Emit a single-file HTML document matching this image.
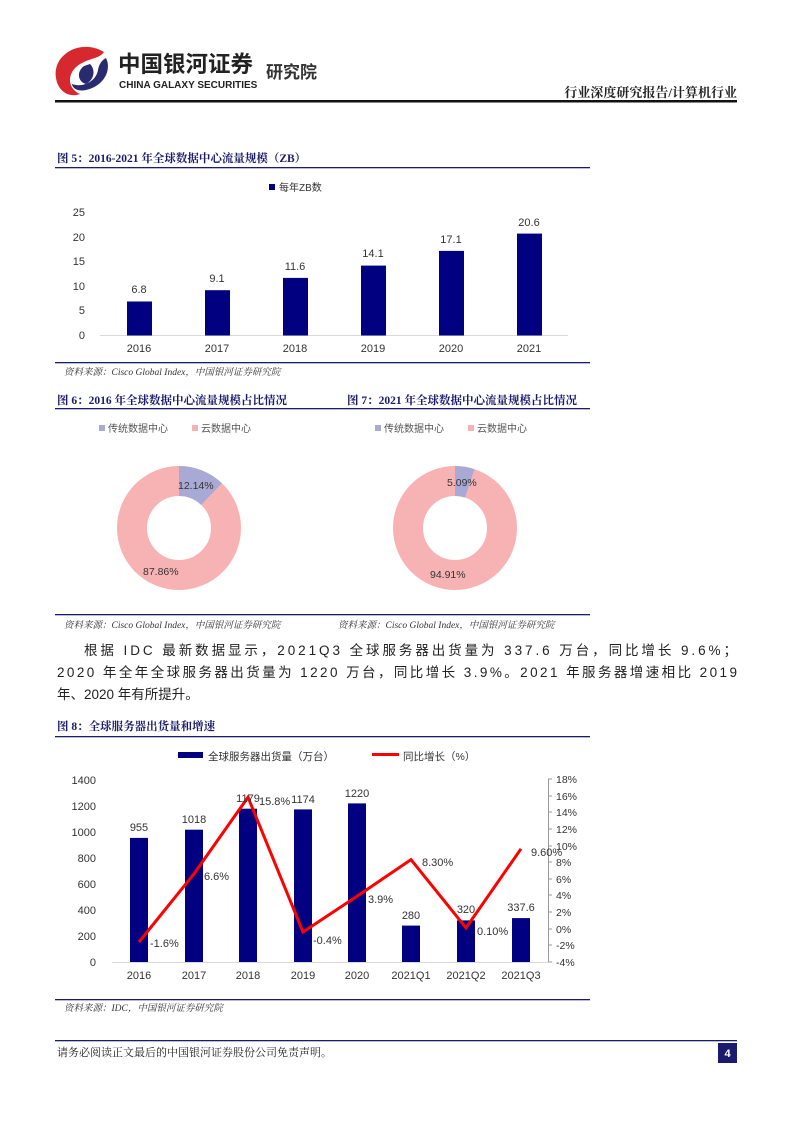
<!DOCTYPE html>
<html><head><meta charset="utf-8"><style>
body{margin:0;background:#fff}
svg{display:block}
text{font-family:"Liberation Sans","Noto Sans CJK SC",sans-serif}
.s{font-family:"Liberation Serif","Noto Serif CJK SC",serif}
</style></head><body>
<svg width="793" height="1122" viewBox="0 0 793 1122" xmlns="http://www.w3.org/2000/svg">
<!-- header -->
<path d="M104 52 C80 38 52 55 56 78 C58 92 70 98 80 94 C66 88 66 70 84 62 C92 58 100 58 104 52Z" fill="#d7282f"/>
<path d="M106 58 C112 70 104 86 86 90 C78 92 72 88 72 84 C82 88 96 82 98 70 C99 64 102 60 106 58Z" fill="#2a2a6e"/>
<path d="M84 66 C76 72 78 82 86 84 C94 80 96 70 90 64Z" fill="#2a2a6e"/>
<text x="118" y="72" font-size="22.5" font-weight="bold" fill="#222">中国银河证券</text>
<text x="119" y="88" font-size="10" font-weight="bold" fill="#222">CHINA GALAXY SECURITIES</text>
<text x="266" y="78" font-size="17" font-weight="bold" fill="#333">研究院</text>
<text x="737" y="97" font-size="13" font-weight="bold" fill="#222" text-anchor="end" class="s">行业深度研究报告/计算机行业</text>
<rect x="55" y="100" width="682" height="2.5" fill="#111"/>

<!-- fig5 -->
<text x="57" y="162" font-size="11.5" font-weight="bold" fill="#1a1a6e" class="s">图 5：2016-2021 年全球数据中心流量规模（ZB）</text>
<rect x="55" y="167" width="535" height="1.3" fill="#1a1a6e"/>
<rect x="269" y="184" width="6" height="6" fill="#000080"/>
<text x="279" y="191" font-size="10" fill="#333">每年ZB数</text>
<g font-size="11" fill="#333" text-anchor="end">
<text x="85" y="216">25</text><text x="85" y="241">20</text><text x="85" y="265">15</text><text x="85" y="290">10</text><text x="85" y="314">5</text><text x="85" y="339">0</text>
</g>
<line x1="100" y1="335.5" x2="568" y2="335.5" stroke="#d9d9d9"/>
<g fill="#000080">
<rect x="127" y="301.5" width="25" height="34"/><rect x="205" y="290.2" width="25" height="45.3"/><rect x="283" y="277.9" width="25" height="57.6"/><rect x="361" y="265.6" width="25" height="69.9"/><rect x="439" y="250.9" width="25" height="84.6"/><rect x="517" y="233.6" width="25" height="101.9"/>
</g>
<g font-size="11" fill="#333" text-anchor="middle">
<text x="139" y="293">6.8</text><text x="217" y="282">9.1</text><text x="295" y="270">11.6</text><text x="373" y="257">14.1</text><text x="451" y="243">17.1</text><text x="529" y="226">20.6</text>
<text x="139" y="352">2016</text><text x="217" y="352">2017</text><text x="295" y="352">2018</text><text x="373" y="352">2019</text><text x="451" y="352">2020</text><text x="529" y="352">2021</text>
</g>
<rect x="55" y="362" width="535" height="1.3" fill="#1a1a6e"/>
<text x="64" y="375" font-size="9.5" font-style="italic" fill="#333" class="s">资料来源：Cisco Global Index，中国银河证券研究院</text>

<!-- fig6/7 -->
<text x="57" y="404" font-size="11.5" font-weight="bold" fill="#1a1a6e" class="s">图 6：2016 年全球数据中心流量规模占比情况</text>
<text x="347" y="404" font-size="11.5" font-weight="bold" fill="#1a1a6e" class="s">图 7：2021 年全球数据中心流量规模占比情况</text>
<rect x="55" y="408" width="535" height="1.3" fill="#1a1a6e"/>
<g font-size="10" fill="#555">
<rect x="99" y="425" width="6" height="6" fill="#a9a9d6"/><text x="108" y="432">传统数据中心</text>
<rect x="192" y="425" width="6" height="6" fill="#f7b3b3"/><text x="201" y="432">云数据中心</text>
<rect x="375" y="425" width="6" height="6" fill="#a9a9d6"/><text x="384" y="432">传统数据中心</text>
<rect x="468" y="425" width="6" height="6" fill="#f7b3b3"/><text x="477" y="432">云数据中心</text>
</g>
<circle cx="179" cy="528" r="47" fill="none" stroke="#f7b3b3" stroke-width="30"/>
<circle cx="179" cy="528" r="47" fill="none" stroke="#a9a9d6" stroke-width="30" stroke-dasharray="35.85 400" transform="rotate(-90 179 528)"/>
<circle cx="455" cy="528" r="47" fill="none" stroke="#f7b3b3" stroke-width="30"/>
<circle cx="455" cy="528" r="47" fill="none" stroke="#a9a9d6" stroke-width="30" stroke-dasharray="15.03 400" transform="rotate(-90 455 528)"/>
<g font-size="10.5" fill="#333">
<text x="178" y="489">12.14%</text><text x="143" y="575">87.86%</text>
<text x="447" y="486">5.09%</text><text x="430" y="578">94.91%</text>
</g>
<rect x="55" y="614" width="535" height="1.3" fill="#1a1a6e"/>
<text x="64" y="628" font-size="9.5" font-style="italic" fill="#333" class="s">资料来源：Cisco Global Index，中国银河证券研究院</text>
<text x="338" y="628" font-size="9.5" font-style="italic" fill="#333" class="s">资料来源：Cisco Global Index，中国银河证券研究院</text>

<!-- paragraph -->
<g font-size="13.5" fill="#222" class="s">
<text x="84" y="655" textLength="653" lengthAdjust="spacing">根据 IDC 最新数据显示，2021Q3 全球服务器出货量为 337.6 万台，同比增长 9.6%；</text>
<text x="57" y="677" textLength="680" lengthAdjust="spacing">2020 年全年全球服务器出货量为 1220 万台，同比增长 3.9%。2021 年服务器增速相比 2019</text>
<text x="57" y="699">年、2020 年有所提升。</text>
</g>

<!-- fig8 -->
<text x="57" y="730" font-size="11.5" font-weight="bold" fill="#1a1a6e" class="s">图 8：全球服务器出货量和增速</text>
<rect x="55" y="736" width="535" height="1.3" fill="#1a1a6e"/>
<rect x="178" y="752" width="25" height="6" fill="#000080"/>
<text x="208" y="760" font-size="10.5" fill="#333">全球服务器出货量（万台）</text>
<rect x="372" y="753" width="27" height="3" fill="#f00"/>
<text x="403" y="760" font-size="10.5" fill="#333">同比增长（%）</text>
<g font-size="11" fill="#333" text-anchor="end">
<text x="96" y="784">1400</text><text x="96" y="810">1200</text><text x="96" y="836">1000</text><text x="96" y="862">800</text><text x="96" y="888">600</text><text x="96" y="914">400</text><text x="96" y="940">200</text><text x="96" y="966">0</text>
</g>
<line x1="112" y1="962.5" x2="548" y2="962.5" stroke="#d9d9d9"/>
<line x1="548.5" y1="779" x2="548.5" y2="962" stroke="#999"/>
<g stroke="#999"><line x1="548" y1="779" x2="552" y2="779"/><line x1="548" y1="796" x2="552" y2="796"/><line x1="548" y1="812" x2="552" y2="812"/><line x1="548" y1="829" x2="552" y2="829"/><line x1="548" y1="846" x2="552" y2="846"/><line x1="548" y1="862" x2="552" y2="862"/><line x1="548" y1="879" x2="552" y2="879"/><line x1="548" y1="895" x2="552" y2="895"/><line x1="548" y1="912" x2="552" y2="912"/><line x1="548" y1="929" x2="552" y2="929"/><line x1="548" y1="945" x2="552" y2="945"/><line x1="548" y1="962" x2="552" y2="962"/></g>
<g font-size="10.5" fill="#333">
<text x="556" y="783">18%</text><text x="556" y="800">16%</text><text x="556" y="816">14%</text><text x="556" y="833">12%</text><text x="556" y="850">10%</text><text x="556" y="866">8%</text><text x="556" y="883">6%</text><text x="556" y="899">4%</text><text x="556" y="916">2%</text><text x="556" y="933">0%</text><text x="556" y="949">-2%</text><text x="556" y="966">-4%</text>
</g>
<g fill="#000080">
<rect x="130" y="837.9" width="18" height="124.1"/><rect x="185" y="829.7" width="18" height="132.3"/><rect x="239" y="808.7" width="18" height="153.3"/><rect x="294" y="809.4" width="18" height="152.6"/><rect x="348" y="803.4" width="18" height="158.6"/><rect x="402" y="925.6" width="18" height="36.4"/><rect x="457" y="920.4" width="18" height="41.6"/><rect x="512" y="918.1" width="18" height="43.9"/>
</g>
<polyline points="139,942 194,873.8 248,797.2 303,932 357,896.3 411,859.6 466,927.9 521,848.8" fill="none" stroke="#f00" stroke-width="3"/>
<g font-size="11" fill="#333">
<text x="139" y="831" text-anchor="middle">955</text><text x="194" y="823" text-anchor="middle">1018</text><text x="248" y="802" text-anchor="middle">1179</text><text x="303" y="803" text-anchor="middle">1174</text><text x="357" y="797" text-anchor="middle">1220</text><text x="411" y="919" text-anchor="middle">280</text><text x="466" y="913" text-anchor="middle">320</text><text x="521" y="911" text-anchor="middle">337.6</text>
<text x="150" y="947">-1.6%</text><text x="204" y="880">6.6%</text><text x="259" y="805">15.8%</text><text x="313" y="944">-0.4%</text><text x="368" y="903">3.9%</text><text x="422" y="866">8.30%</text><text x="477" y="935">0.10%</text><text x="531" y="856">9.60%</text>
</g>
<g font-size="11" fill="#333" text-anchor="middle">
<text x="139" y="979">2016</text><text x="194" y="979">2017</text><text x="248" y="979">2018</text><text x="303" y="979">2019</text><text x="357" y="979">2020</text><text x="411" y="979">2021Q1</text><text x="466" y="979">2021Q2</text><text x="521" y="979">2021Q3</text>
</g>
<rect x="55" y="999" width="535" height="1.3" fill="#1a1a6e"/>
<text x="64" y="1011" font-size="9.5" font-style="italic" fill="#333" class="s">资料来源：IDC，中国银河证券研究院</text>

<!-- footer -->
<rect x="55" y="1040" width="682" height="1.3" fill="#1a1a6e"/>
<text x="57" y="1056" font-size="11" fill="#222" class="s">请务必阅读正文最后的中国银河证券股份公司免责声明。</text>
<rect x="718" y="1043" width="19" height="20" fill="#1a1a6e"/>
<text x="727.5" y="1057" font-size="11" font-weight="bold" fill="#fff" text-anchor="middle">4</text>
</svg>
</body></html>
